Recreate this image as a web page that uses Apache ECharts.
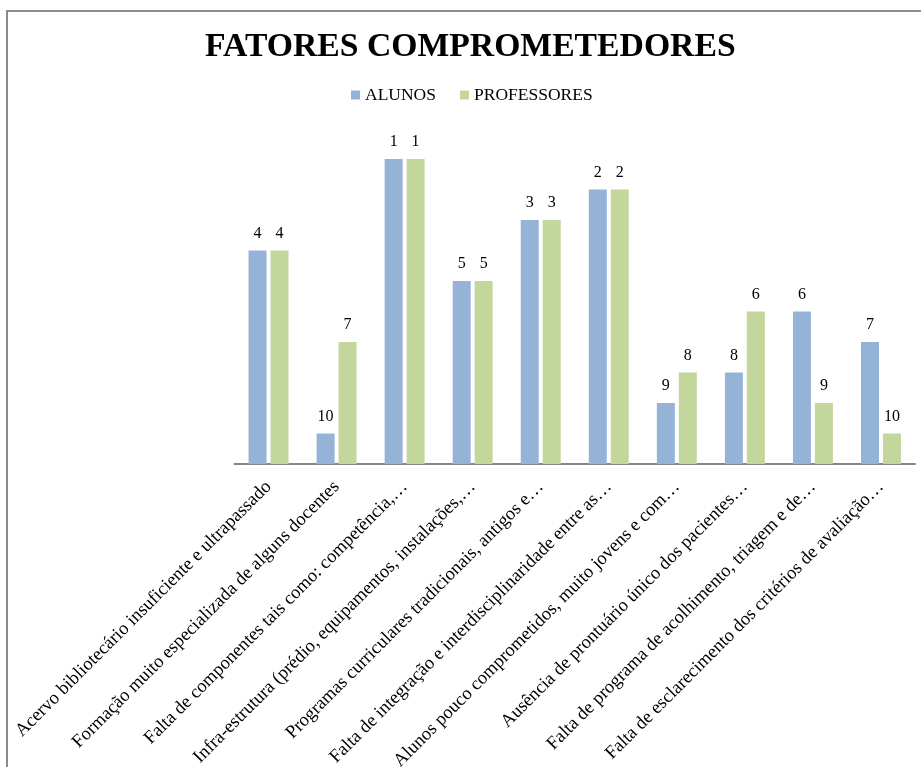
<!DOCTYPE html>
<html>
<head>
<meta charset="utf-8">
<script src="https://cdn.jsdelivr.net/npm/echarts@6/dist/echarts.min.js"></script>
<style>
  html, body { margin: 0; padding: 0; background: #fff; }
  #chart { width: 921px; height: 767px; }
</style>
</head>
<body>
<div id="chart"></div>
<script>
// Factors, in chart order
const categories = [
  'Acervo bibliotecário insuficiente e ultrapassado',
  'Formação muito especializada de alguns docentes',
  'Falta de componentes tais como: competência,…',
  'Infra-estrutura (prédio, equipamentos, instalações,…',
  'Programas curriculares tradicionais, antigos e…',
  'Falta de integração e interdisciplinaridade entre as…',
  'Alunos pouco comprometidos, muito jovens e com…',
  'Ausência de prontuário único dos pacientes…',
  'Falta de programa de acolhimento, triagem e de…',
  'Falta de esclarecimento dos critérios de avaliação…'
];

// Rank given by each group (1 = most compromising)
const rankAlunos = [4, 10, 1, 5, 3, 2, 9, 8, 6, 7];
const rankProfessores = [4, 7, 1, 5, 3, 2, 8, 6, 9, 10];

const seriesNames = ['ALUNOS', 'PROFESSORES'];
const colors = ['#95B3D7', '#C3D69B'];

// Bar height grows as rank improves: rank 1 -> 10, rank 10 -> 1
const maxRank = 10;
const toHeight = r => maxRank + 1 - r;

const serif = '"Liberation Serif", "Times New Roman", serif';

const chart = echarts.init(document.getElementById('chart'));

function barSeries(name, ranks, color) {
  return {
    name: name,
    type: 'bar',
    barWidth: 18,
    barGap: '22%',
    data: ranks.map(r => ({ value: toHeight(r), rank: r })),
    itemStyle: { color: color },
    label: {
      show: true,
      position: 'top',
      distance: 9,
      color: '#000',
      fontFamily: serif,
      fontSize: 16,
      formatter: p => String(p.data.rank)
    }
  };
}

chart.setOption({
  backgroundColor: '#fff',
  animation: false,
  color: colors,
  title: {
    text: 'FATORES COMPROMETEDORES',
    left: 200,
    top: 25,
    textStyle: {
      fontFamily: serif,
      fontWeight: 'bold',
      fontSize: 33.7,
      color: '#000'
    }
  },
  legend: {
    left: 346,
    top: 81,
    itemWidth: 9,
    itemHeight: 9,
    itemGap: 24,
    icon: 'rect',
    textStyle: {
      fontFamily: serif,
      fontSize: 17.5,
      color: '#000'
    },
    data: seriesNames
  },
  grid: {
    left: 234.5,
    right: 6,
    top: 159,
    bottom: 303,
    containLabel: false,
    outerBoundsMode: 'none'
  },
  xAxis: {
    type: 'category',
    data: categories,
    axisLine: { show: true, lineStyle: { color: '#868686', width: 2 } },
    axisTick: { show: false },
    axisLabel: {
      interval: 0,
      rotate: 45,
      margin: 20,
      fontFamily: serif,
      fontSize: 18.5,
      color: '#000'
    }
  },
  yAxis: {
    type: 'value',
    min: 0,
    max: 10,
    show: false,
    splitLine: { show: false }
  },
  graphic: [{
    type: 'polyline',
    shape: { points: [[7, 767], [7, 11], [921, 11]] },
    style: { stroke: '#8c8c8c', lineWidth: 2, fill: null },
    silent: true
  }],
  series: [
    barSeries(seriesNames[0], rankAlunos, colors[0]),
    barSeries(seriesNames[1], rankProfessores, colors[1])
  ]
});
</script>
</body>
</html>
